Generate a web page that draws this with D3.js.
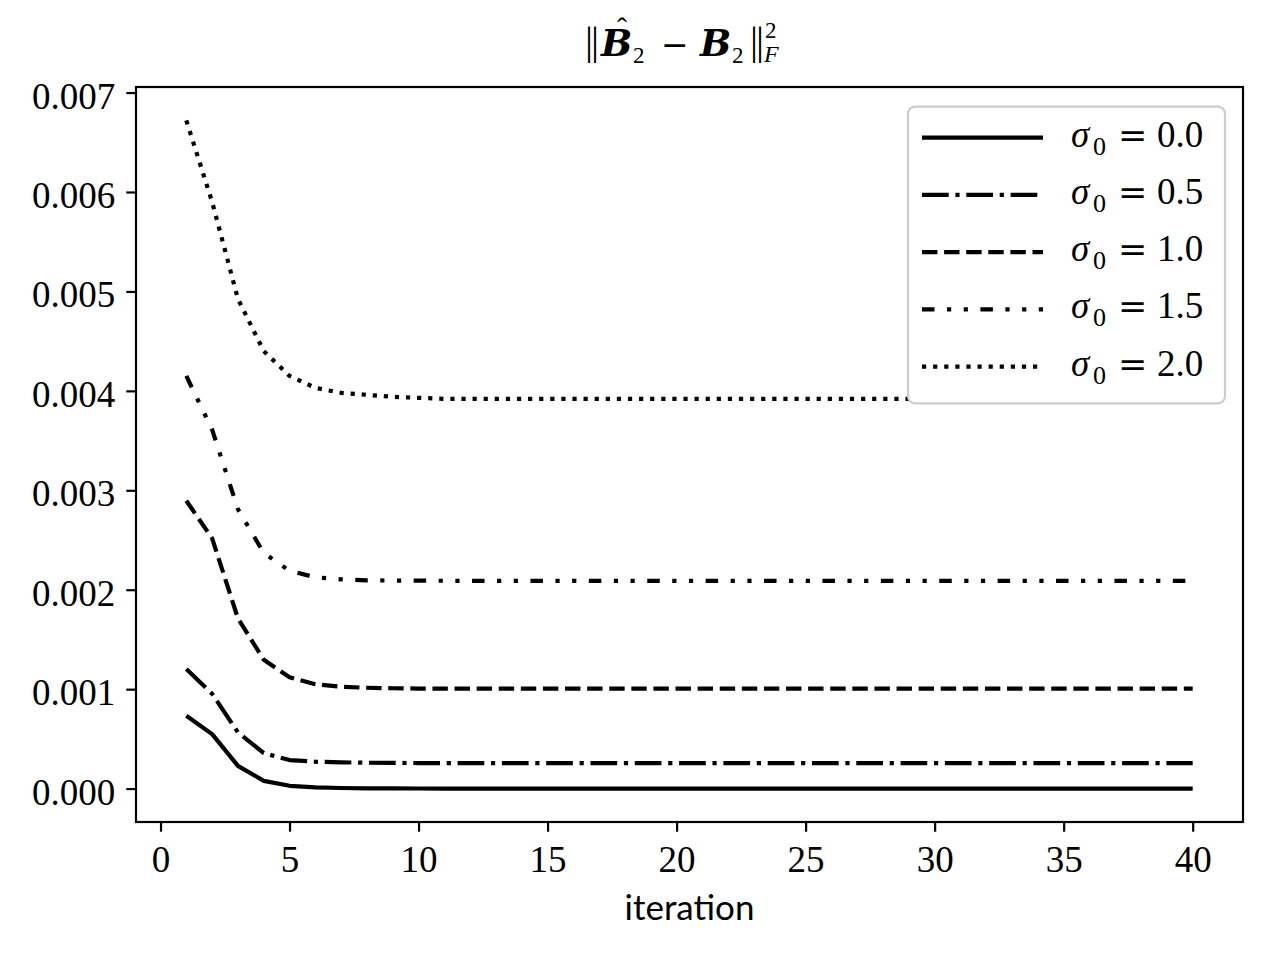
<!DOCTYPE html>
<html>
<head>
<meta charset="utf-8">
<script src="https://cdn.jsdelivr.net/npm/d3@7"></script>
<style>
  body { margin: 0; background: #fff; }
  svg text { fill: #000; }
</style>
</head>
<body>
<div id="chart"></div>
<script>
// values, one per iteration (1..40)
const sigmaLabels = ["0.0", "0.5", "1.0", "1.5", "2.0"];

const sigma00 = [0.000732, 0.000548, 0.000229, 0.000078, 0.000028, 0.000012, 0.000006, 0.000003,
  0.0000015, 0.000001, 0.0000005, 0.0000003, 0, 0, 0, 0, 0, 0, 0, 0,
  0, 0, 0, 0, 0, 0, 0, 0, 0, 0, 0, 0, 0, 0, 0, 0, 0, 0, 0, 0];
const sigma05 = [0.001202, 0.000954, 0.000565, 0.000357, 0.000287, 0.000270, 0.000264, 0.000260,
  0.000258, 0.000257, 0.000257, 0.000257, 0.000257, 0.000257, 0.000257, 0.000257, 0.000257, 0.000257, 0.000257, 0.000257,
  0.000257, 0.000257, 0.000257, 0.000257, 0.000257, 0.000257, 0.000257, 0.000257, 0.000257, 0.000257,
  0.000257, 0.000257, 0.000257, 0.000257, 0.000257, 0.000257, 0.000257, 0.000257, 0.000257, 0.000257];
const sigma10 = [0.002895, 0.002517, 0.001712, 0.001296, 0.001120, 0.001050, 0.001024, 0.001014,
  0.001009, 0.001006, 0.001005, 0.001005, 0.001005, 0.001005, 0.001005, 0.001005, 0.001005, 0.001005, 0.001005, 0.001005,
  0.001005, 0.001005, 0.001005, 0.001005, 0.001005, 0.001005, 0.001005, 0.001005, 0.001005, 0.001005,
  0.001005, 0.001005, 0.001005, 0.001005, 0.001005, 0.001005, 0.001005, 0.001005, 0.001005, 0.001005];
const sigma15 = [0.00415, 0.00361, 0.00281, 0.00237, 0.00219, 0.002125, 0.002105, 0.002095,
  0.002092, 0.002091, 0.00209, 0.00209, 0.00209, 0.00209, 0.00209, 0.00209, 0.00209, 0.00209, 0.00209, 0.00209,
  0.00209, 0.00209, 0.00209, 0.00209, 0.00209, 0.00209, 0.00209, 0.00209, 0.00209, 0.00209,
  0.00209, 0.00209, 0.00209, 0.00209, 0.00209, 0.00209, 0.00209, 0.00209, 0.00209, 0.00209];
const sigma20 = [0.00672, 0.00590, 0.004925, 0.00440, 0.00415, 0.00403, 0.00398, 0.00396,
  0.00394, 0.00393, 0.00392, 0.00392, 0.00392, 0.00392, 0.00392, 0.00392, 0.00392, 0.00392, 0.00392, 0.00392,
  0.00392, 0.00392, 0.00392, 0.00392, 0.00392, 0.00392, 0.00392, 0.00392, 0.00392, 0.00392,
  0.00392, 0.00392, 0.00392, 0.00392, 0.00392, 0.00392, 0.00392, 0.00392, 0.00392, 0.00392];

const xTicks = [0, 5, 10, 15, 20, 25, 30, 35, 40];
const yTicks = [0, 0.001, 0.002, 0.003, 0.004, 0.005, 0.006, 0.007];

const allSeries = [sigma00, sigma05, sigma10, sigma15, sigma20];
// matplotlib-ish dash patterns at 200 dpi, linewidth 1.5pt
const dashes = ["none", "26.7,6.7,4.2,6.7", "15.4,6.7", "12.5,12.5,4.2,12.5,4.2,12.5", "4.2,6.9"];

const serif = "'Liberation Serif', 'DejaVu Serif', serif";
const mathSerif = "'DejaVu Serif', serif";

const W = 1280, H = 960;
const margin = { top: 87, right: 37, bottom: 138, left: 136 };
const pw = W - margin.left - margin.right;
const ph = H - margin.top - margin.bottom;

const svg = d3.select("#chart").append("svg")
  .attr("width", W).attr("height", H);

// data limits with the 5% padding matplotlib adds
const xMin = 1, xMax = sigma20.length;
const yMin = d3.min(allSeries, s => d3.min(s)), yMax = d3.max(allSeries, s => d3.max(s));
const xPad = (xMax - xMin) * 0.05, yPad = (yMax - yMin) * 0.05;

const x = d3.scaleLinear().domain([xMin - xPad, xMax + xPad]).range([0, pw]);
const y = d3.scaleLinear().domain([yMin - yPad, yMax + yPad]).range([ph, 0]);

const g = svg.append("g").attr("transform", `translate(${margin.left},${margin.top})`);

const line = d3.line().x((d, i) => x(i + 1)).y(d => y(d));

g.selectAll("path.series")
  .data(allSeries)
  .enter().append("path")
  .attr("class", "series")
  .attr("d", d => line(d))
  .attr("fill", "none")
  .attr("stroke", "#000")
  .attr("stroke-width", 4.2)
  .attr("stroke-linejoin", "round")
  .attr("stroke-dasharray", (d, i) => dashes[i]);

// axes
const xAxis = g.append("g")
  .attr("transform", `translate(0,${ph})`)
  .call(d3.axisBottom(x).tickValues(xTicks).tickSize(9.7).tickPadding(14).tickFormat(d3.format("d")));
const yAxis = g.append("g")
  .call(d3.axisLeft(y).tickValues(yTicks).tickSize(9.7).tickPadding(11).tickFormat(d3.format(".3f")));

[xAxis, yAxis].forEach(a => {
  a.select(".domain").remove();
  a.selectAll(".tick line").attr("stroke", "#000").attr("stroke-width", 2.2);
  a.selectAll(".tick text")
    .style("font-family", serif)
    .attr("font-size", 37)
    .attr("fill", "#000");
});
xAxis.selectAll(".tick text").attr("dy", "0.72em");
yAxis.selectAll(".tick text").attr("dy", "0.42em");

// frame
g.append("rect")
  .attr("width", pw).attr("height", ph)
  .attr("fill", "none").attr("stroke", "#000").attr("stroke-width", 2.2);

// x label
svg.append("text")
  .attr("x", margin.left + pw / 2).attr("y", 920)
  .attr("text-anchor", "middle")
  .style("font-family", "Lato, 'Open Sans', sans-serif")
  .attr("font-size", 35)
  .text("iteration");

// title  ||B^_2 - B_2||^2_F, set piece by piece
const titlePieces = [
  { t: "|", x: 589, y: 54, size: 40, anchor: "middle", family: serif },
  { t: "|", x: 595, y: 54, size: 40, anchor: "middle", family: serif },
  { t: "B", x: 601, y: 56, size: 37, family: mathSerif, weight: "bold", style: "italic" },
  { t: "\u02C6", x: 622, y: 38, size: 30, anchor: "middle", family: serif },
  { t: "2", x: 633, y: 63, size: 23, family: serif },
  { t: "\u2212", x: 661, y: 56, size: 33, family: mathSerif },
  { t: "B", x: 700, y: 56, size: 37, family: mathSerif, weight: "bold", style: "italic" },
  { t: "2", x: 732, y: 63, size: 23, family: serif },
  { t: "|", x: 754, y: 54, size: 40, anchor: "middle", family: serif },
  { t: "|", x: 760, y: 54, size: 40, anchor: "middle", family: serif },
  { t: "2", x: 765, y: 38, size: 23, family: serif },
  { t: "F", x: 764, y: 62, size: 24, family: serif, style: "italic" }
];
svg.append("g").attr("class", "title")
  .selectAll("text")
  .data(titlePieces)
  .enter().append("text")
  .attr("x", d => d.x).attr("y", d => d.y)
  .attr("text-anchor", d => d.anchor || "start")
  .attr("font-size", d => d.size)
  .style("font-family", d => d.family)
  .attr("font-weight", d => d.weight || "normal")
  .attr("font-style", d => d.style || "normal")
  .text(d => d.t);

// legend
const lx = 908, ly = 106.7, lw = 317, lh = 296.6;
svg.append("rect")
  .attr("x", lx).attr("y", ly).attr("width", lw).attr("height", lh)
  .attr("rx", 7).attr("ry", 7)
  .attr("fill", "#fff")
  .attr("stroke", "#cccccc").attr("stroke-width", 2.2);

const legendY = d3.scaleLinear().domain([0, 4]).range([137.7, 366.7]);
const items = svg.selectAll("g.legend-item")
  .data(sigmaLabels)
  .enter().append("g")
  .attr("class", "legend-item")
  .attr("transform", (d, i) => `translate(0,${legendY(i)})`);

items.append("line")
  .attr("x1", 922).attr("x2", 1043)
  .attr("stroke", "#000").attr("stroke-width", 4.2)
  .attr("stroke-dasharray", (d, i) => dashes[i]);

items.append("text").attr("x", 1071).attr("y", 9)
  .attr("font-size", 37).attr("font-style", "italic")
  .style("font-family", serif).text("\u03C3");
items.append("text").attr("x", 1093).attr("y", 17)
  .attr("font-size", 26)
  .style("font-family", serif).text("0");
items.append("text").attr("x", 1118).attr("y", 9)
  .attr("font-size", 35)
  .style("font-family", mathSerif).text("=");
items.append("text").attr("x", 1157).attr("y", 9)
  .attr("font-size", 37)
  .style("font-family", serif).text(d => d);
</script>
</body>
</html>
